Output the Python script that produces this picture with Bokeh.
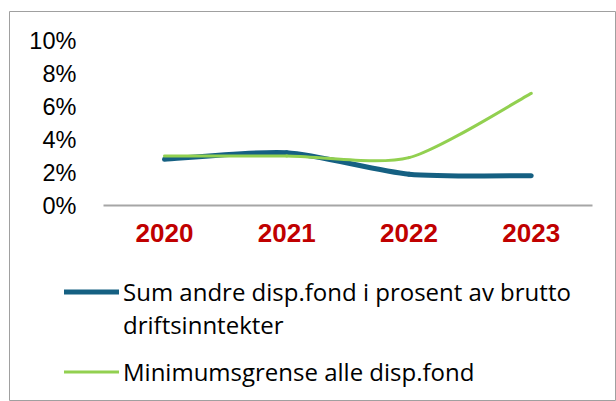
from bokeh.plotting import figure
from bokeh.models import (Range1d, FixedTicker, Legend, LegendItem, LinearAxis,
                          CustomJSTickFormatter)
from bokeh.embed import file_html
from bokeh.resources import INLINE

years = ["2020", "2021", "2022", "2023"]
sum_andre = [2.8, 3.2, 1.9, 1.8]          # percent
minimum = [3.0, 3.0, 2.9, 6.8]            # percent
y_ticks = [0, 2, 4, 6, 8, 10]
label_blue_1 = "Sum andre disp.fond i prosent av brutto"
label_blue_2 = "driftsinntekter"
label_green = "Minimumsgrense alle disp.fond"

BLUE = "#156082"
GREEN = "#92D050"
BORDER = "#a0a0a0"
TENSION = 1 / 8


def smooth_segments(vals):
    """Bezier control points for a smoothed (Excel-like) line."""
    xs = list(range(len(vals)))
    pts = list(zip(xs, vals))
    seg = dict(x0=[], y0=[], x1=[], y1=[], cx0=[], cy0=[], cx1=[], cy1=[])
    n = len(pts)
    for i in range(n - 1):
        p0 = pts[i - 1] if i > 0 else pts[i]
        p1 = pts[i]
        p2 = pts[i + 1]
        p3 = pts[i + 2] if i + 2 < n else pts[i + 1]
        seg["x0"].append(p1[0]); seg["y0"].append(p1[1])
        seg["x1"].append(p2[0]); seg["y1"].append(p2[1])
        seg["cx0"].append(p1[0] + (p2[0] - p0[0]) * TENSION)
        seg["cy0"].append(p1[1] + (p2[1] - p0[1]) * TENSION)
        seg["cx1"].append(p2[0] - (p3[0] - p1[0]) * TENSION)
        seg["cy1"].append(p2[1] - (p3[1] - p1[1]) * TENSION)
    return seg


W, H = 616, 401
FL, FT = 9, 11                      # frame (chart area) left / top in px
FW, FH = W - FL, H - FT             # frame size in px
PX_X, PX_Y = 122.25, 16.5           # px per category, px per percent
X0_PX, Y0_PX = 164, 205             # pixel position of first category / 0 %
x_start = -(X0_PX - FL) / PX_X
x_end = x_start + FW / PX_X
y_end = (Y0_PX - FT) / PX_Y
y_start = -(H - Y0_PX) / PX_Y

p = figure(width=W, height=H, output_backend="svg", toolbar_location=None,
           x_range=Range1d(x_start, x_end), y_range=Range1d(y_start, y_end),
           x_axis_location=None, y_axis_location=None,
           min_border_left=FL, min_border_right=0, min_border_top=FT,
           min_border_bottom=0)
p.outline_line_color = BORDER
p.outline_line_width = 1
p.grid.visible = False
p.background_fill_color = "white"
p.border_fill_color = "white"

r_blue = p.bezier(line_color=BLUE, line_width=5, line_cap="round",
                  **smooth_segments(sum_andre))
r_green = p.bezier(line_color=GREEN, line_width=3, line_cap="round",
                   **smooth_segments(minimum))
r_blank = p.line(x=[], y=[], line_alpha=0)

# y axis (inside the chart area)
yaxis = LinearAxis(fixed_location=-0.5,
                   ticker=FixedTicker(ticks=y_ticks),
                   formatter=CustomJSTickFormatter(code="return tick + '%';"))
yaxis.axis_line_color = None
yaxis.major_tick_line_color = None
yaxis.minor_tick_line_color = None
yaxis.major_tick_out = 0
yaxis.major_tick_in = 0
yaxis.major_label_standoff = 27
yaxis.major_label_text_font = "Liberation Sans"
yaxis.major_label_text_font_size = "23.5px"
yaxis.major_label_text_color = "black"
p.add_layout(yaxis, "left")

# x axis at 0 %
xaxis = LinearAxis(fixed_location=0, bounds=(-0.5, len(years) - 0.5),
                   ticker=FixedTicker(ticks=list(range(len(years)))),
                   major_label_overrides={i: y for i, y in enumerate(years)})
xaxis.axis_line_color = "#a6a6a6"
xaxis.axis_line_width = 2
xaxis.major_tick_line_color = None
xaxis.minor_tick_line_color = None
xaxis.major_tick_out = 0
xaxis.major_tick_in = 0
xaxis.major_label_standoff = 18
xaxis.major_label_text_font = "Liberation Sans"
xaxis.major_label_text_font_style = "bold"
xaxis.major_label_text_font_size = "26px"
xaxis.major_label_text_color = "#C00000"
p.add_layout(xaxis, "below")


def style_legend(lg):
    lg.glyph_width = 55
    lg.glyph_height = 33
    lg.label_height = 33
    lg.label_standoff = 4
    lg.padding = 0
    lg.margin = 0
    lg.spacing = 0
    lg.border_line_color = None
    lg.background_fill_alpha = 0
    lg.label_text_font = "Open Sans"
    lg.label_text_font_size = "24px"
    lg.label_text_color = "black"
    lg.label_text_baseline = "middle"


legend_a = Legend(items=[LegendItem(label=label_blue_1, renderers=[r_blue]),
                         LegendItem(label=label_blue_2, renderers=[r_blank])],
                  location=(64 - FL, H - 340.5))
legend_b = Legend(items=[LegendItem(label=label_green, renderers=[r_green])],
                  location=(64 - FL, H - 388))
style_legend(legend_a)
style_legend(legend_b)
p.add_layout(legend_a, "center")
p.add_layout(legend_b, "center")

open("out.html", "w").write(file_html(p, INLINE))
